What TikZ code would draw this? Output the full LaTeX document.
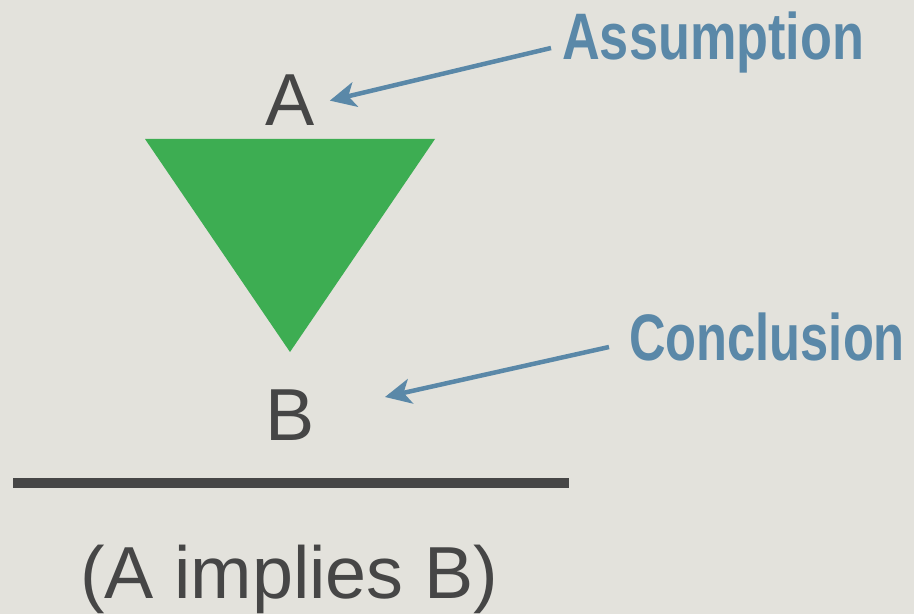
\documentclass[tikz,border=0pt]{standalone}
\usepackage{fontspec}
\setmainfont{Liberation Sans}
\usetikzlibrary{arrows.meta,calc}
\definecolor{Paper}{HTML}{E3E2DC}
\definecolor{Ink}{HTML}{464646}
\definecolor{Green}{HTML}{3DAD52}
\definecolor{Steel}{HTML}{5A88A8}
\tikzset{letter/.style={text=Ink,inner sep=0pt,font=\fontsize{74}{80}\selectfont},tag/.style={text=Steel,inner sep=0pt,anchor=base west,font=\fontsize{66}{70}\selectfont\bfseries},pointer/.style={-{Stealth[length=26bp,width=25bp,inset=7bp]},line width=4.5bp,draw=Steel}}
\newcommand{\narrow}[2][0.77]{\scalebox{#1}[1]{#2}}
\begin{document}
\begin{tikzpicture}[x=1bp,y=-1bp]
      \fill[Paper](0,0)rectangle(914,614);
      \fill[Green](145,139)--(435,139)--(290,352)--cycle;
      \node[letter,anchor=base,inner xsep=15bp](A)at(290,126){A};
      \node[letter,anchor=base](B)at(290,440){B};
      \coordinate(Btip)at(385,397);
      \node[tag](assume)at(562,60){\narrow[0.795]{Assumption}};
      \node[tag](concl)at(629,360){\narrow{Conclusion}};
      \draw[pointer]([shift={(-11,-12)}]assume.base west)--(A.east);
      \draw[pointer]([shift={(-20,-13)}]concl.base west)--(Btip);
      \draw[Ink,line width=10bp](13,483)--(569,483);
      \node[letter,anchor=base](implies)at(289,598){(A implies B)};
    \end{tikzpicture}
\end{document}
